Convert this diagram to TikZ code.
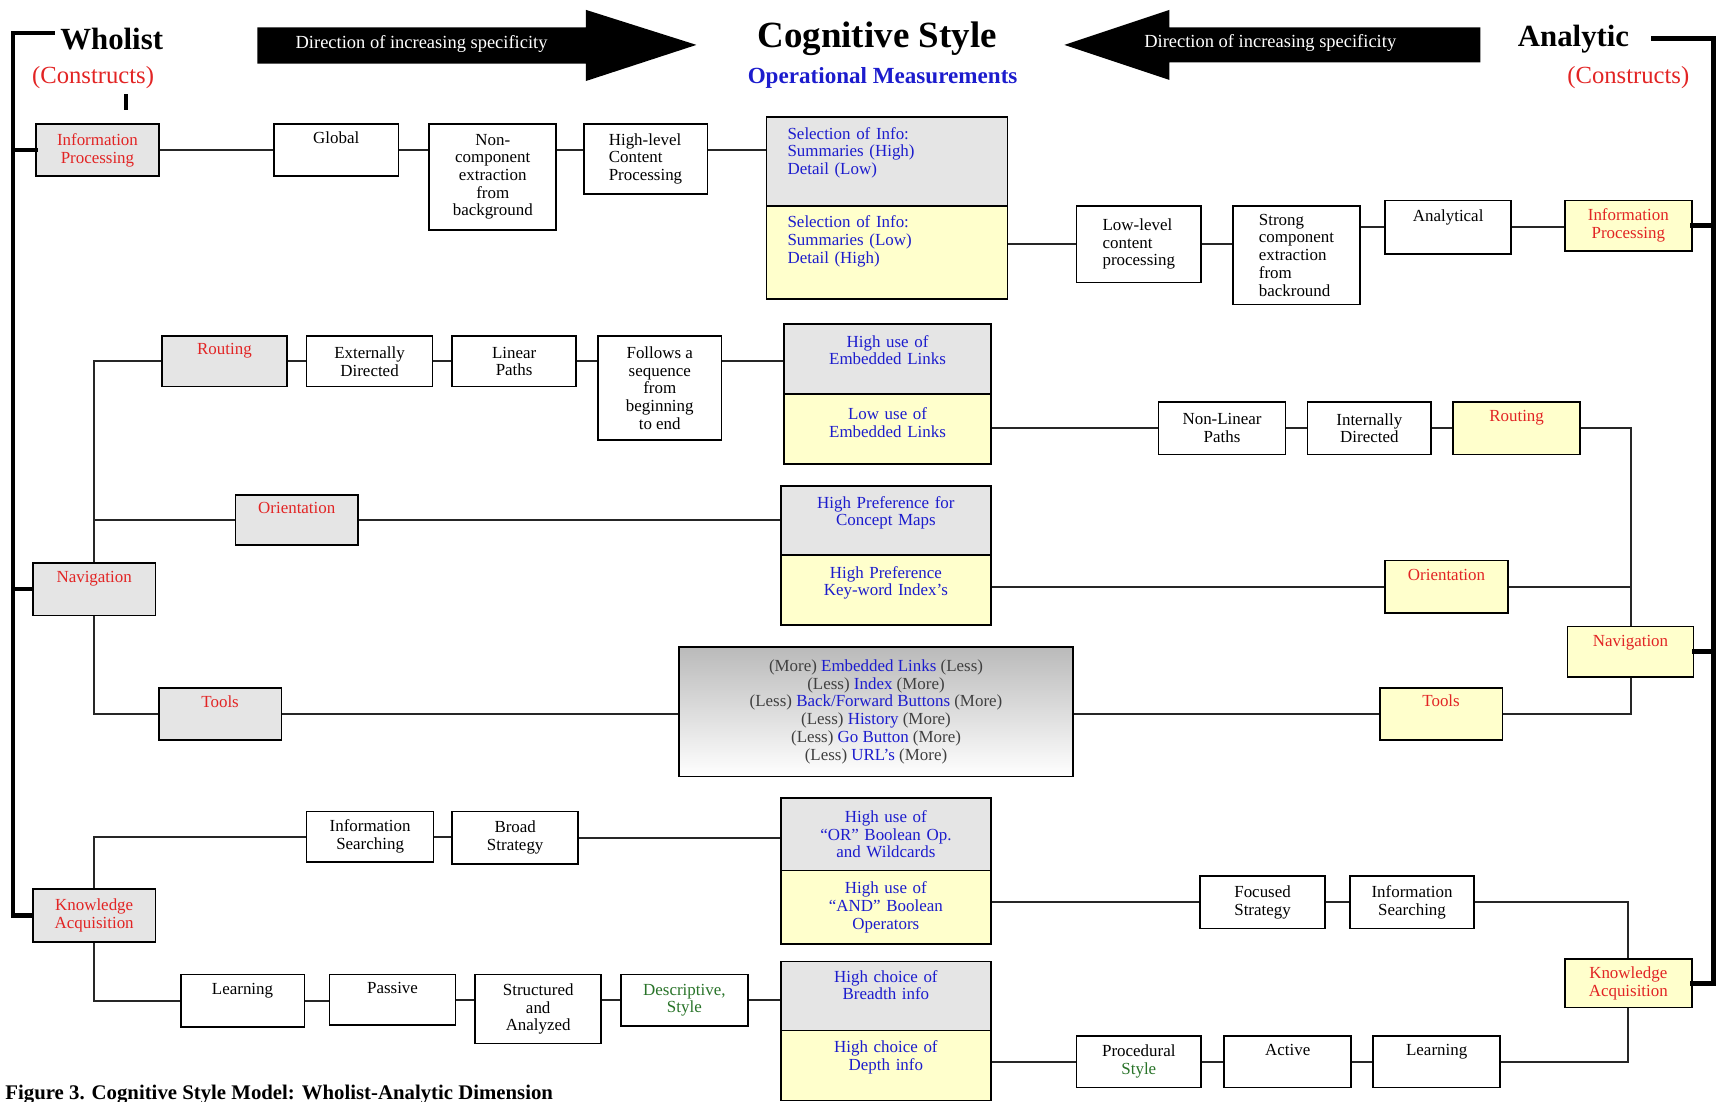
\documentclass[tikz,border=0pt]{standalone}
\usepackage{fontspec}
\setmainfont{Liberation Serif}

\definecolor{boxgrey}{RGB}{229,229,229}
\definecolor{boxyellow}{RGB}{255,255,204}
\definecolor{constred}{RGB}{226,36,36}
\definecolor{measblue}{RGB}{28,28,205}
\definecolor{stylegreen}{RGB}{40,115,40}

\def\un{0.025cm}
\tikzset{
  box/.style 2 args = {
    draw, line width=1.1pt, fill=white, inner sep=3pt, align=center,
    minimum width=#1*\un, minimum height=#2*\un,
    font=\fontsize{11}{11.5}\selectfont
  },
  wholist/.style = {fill=boxgrey},
  analytic/.style = {fill=boxyellow},
  construct/.style = {text=constred},
  measure/.style = {text=measblue, text width=#1*\un-6pt},
  % text at the top of a box: box height, baseline below the top edge
  topline/.code 2 args = {
    \pgfmathsetmacro\tophgt{#2*0.7113-3}
    \pgfmathsetmacro\topdep{(#1-#2)*0.7113-3}
    \tikzset{text height=\tophgt pt, text depth=\topdep pt}
  },
  link/.style = {line width=1.3pt, draw=black!85},
  bracket/.style = {line width=3pt, line cap=rect},
  pole/.style = {font=\fontsize{20}{22}\selectfont\bfseries},
  constr/.style = {text=constred, font=\fontsize{16}{18}\selectfont},
  heading/.style = {font=\fontsize{24}{26}\selectfont\bfseries},
  opmeas/.style = {text=measblue, font=\fontsize{15}{17}\selectfont\bfseries},
  arrowtext/.style = {text=white, font=\fontsize{12}{14}\selectfont}
}

\begin{document}
\begin{tikzpicture}[x=0.025cm, y=-0.025cm]
    \useasboundingbox (0,0) rectangle (1568,1006);

    %% Heading

    % Poles and title
    \node[pole] (whol) at (102,36) {Wholist};
    \node[constr] (conl) at (85,71) {(Constructs)};
    \node[heading] (cog) at (801,35) {Cognitive Style};
    \node[opmeas] (opm) at (806,71) {Operational Measurements};
    \node[pole] (anal) at (1437,36) {Analytic};
    \node[constr] (conr) at (1487,71) {(Constructs)};
    \draw[line width=2.2pt] (115,86) -- (115,100);

    % Direction arrows
    \fill (235,25) -- (535,25) -- (535,9) -- (636,41) -- (535,74) -- (535,58) -- (235,58) -- cycle;
    \node[arrowtext] (dirl) at (385,40) {Direction of increasing specificity};
    \fill (1352,25) -- (1068,25) -- (1068,9) -- (972,41) -- (1068,73) -- (1068,57) -- (1352,57) -- cycle;
    \node[arrowtext] (dirr) at (1160,39) {Direction of increasing specificity};

    %% Constructs, wholist side
    \node[box={112}{48}, wholist, construct] (ipl) at (89,137) {Information\\Processing};
    \node[box={112}{48}, wholist, construct, topline={48}{18}] (navl) at (86,538) {Navigation};
    \node[box={112}{48}, wholist, construct] (kal) at (86,836) {Knowledge\\Acquisition};
    \node[box={114}{46}, wholist, construct, topline={46}{17}] (routl) at (205,330) {Routing};
    \node[box={112}{46}, wholist, construct, topline={46}{17}] (oril) at (271,475) {Orientation};
    \node[box={112}{48}, wholist, construct, topline={48}{18}] (tooll) at (201,652) {Tools};

    %% Constructs, analytic side
    \node[box={116}{46}, analytic, construct] (ipr) at (1487,206) {Information\\Processing};
    \node[box={116}{48}, analytic, construct, topline={48}{18}] (routr) at (1385,391) {Routing};
    \node[box={112}{48}, analytic, construct, topline={48}{18}] (orir) at (1321,536) {Orientation};
    \node[box={115}{46}, analytic, construct, topline={46}{18}] (navr) at (1489,595) {Navigation};
    \node[box={112}{48}, analytic, construct, topline={48}{17}] (toolr) at (1316,652) {Tools};
    \node[box={116}{44}, analytic, construct] (kar) at (1487,898) {Knowledge\\Acquisition};

    %% Information processing
    \node[box={114}{48}, topline={48}{18}] (glob) at (307,137) {Global};
    \node[box={116}{97}] (ncomp) at (450,161.5) {Non-\\component\\extraction\\from\\background};
    \node[box={113}{64}, align=left] (hlev) at (589.5,145) {High-level\\Content\\Processing};
    \node[box={220}{81}, wholist, measure=190, align=left, topline={81}{20}] (selA) at (810,147.5)
        {Selection of Info:\\Summaries (High)\\Detail (Low)};
    \node[box={220}{85}, analytic, measure=190, align=left, topline={85}{20}] (selB) at (810,230.5)
        {Selection of Info:\\Summaries (Low)\\Detail (High)};
    \node[box={114}{70}, align=left] (lowl) at (1040,223) {Low-level\\content\\processing};
    \node[box={116}{90}, align=left] (strong) at (1184,233) {Strong\\component\\extraction\\from\\backround};
    \node[box={115}{49}, topline={49}{19}] (analy) at (1322.5,207.5) {Analytical};

    %% Navigation
    \node[box={115}{46}] (ext) at (337.5,330) {Externally\\Directed};
    \node[box={113}{46}] (lin) at (469.5,330) {Linear\\Paths};
    \node[box={113}{95}] (follow) at (602.5,354.5) {Follows a\\sequence\\from\\beginning\\to end};
    \node[box={189}{64}, wholist, measure=189, topline={64}{21}] (embA) at (810.5,328) {High use of\\Embedded Links};
    \node[box={189}{64}, analytic, measure=189, topline={64}{23}] (embB) at (810.5,392) {Low use of\\Embedded Links};
    \node[box={116}{48}] (nonlin) at (1116,391) {Non-Linear\\Paths};
    \node[box={113}{48}] (intd) at (1250.5,391) {Internally\\Directed};
    \node[box={192}{63}, wholist, measure=192, topline={63}{20}] (conA) at (809,475.5) {High Preference for\\Concept Maps};
    \node[box={192}{64}, analytic, measure=192, topline={64}{21}] (conB) at (809,539) {High Preference\\Key-word Index's};
    \node[box={360}{118}, top color=black!27, bottom color=white, text=black!75] (tools) at (800,650)
        {(More) \textcolor{measblue}{Embedded Links} (Less)\\
         (Less) \textcolor{measblue}{Index} (More)\\
         (Less) \textcolor{measblue}{Back/Forward Buttons} (More)\\
         (Less) \textcolor{measblue}{History} (More)\\
         (Less) \textcolor{measblue}{Go Button} (More)\\
         (Less) \textcolor{measblue}{URL's} (More)};

    %% Knowledge acquisition
    \node[box={116}{46}] (isl) at (338,764) {Information\\Searching};
    \node[box={115}{48}] (broad) at (470.5,765) {Broad\\Strategy};
    \node[box={192}{66}, wholist, measure=192] (orA) at (809,762) {High use of\\``OR'' Boolean Op.\\and Wildcards};
    \node[box={192}{67}, analytic, measure=192] (orB) at (809,828.5) {High use of\\``AND'' Boolean\\Operators};
    \node[box={114}{48}] (focus) at (1153,824) {Focused\\Strategy};
    \node[box={113}{48}] (isr) at (1289.5,824) {Information\\Searching};
    \node[box={113}{48}, topline={48}{18}] (learnl) at (221.5,914) {Learning};
    \node[box={115}{46}, topline={46}{17}] (passv) at (358.5,913) {Passive};
    \node[box={115}{63}] (struct) at (491.5,921.5) {Structured\\and\\Analyzed};
    \node[box={116}{47}, text=stylegreen] (descr) at (625,913.5) {Descriptive,\\Style};
    \node[box={192}{63}, wholist, measure=192, topline={63}{19}] (brA) at (809,909.5) {High choice of\\Breadth info};
    \node[box={192}{64}, analytic, measure=192, topline={64}{20}] (brB) at (809,973) {High choice of\\Depth info};
    \node[box={114}{47}] (procr) at (1040,969.5) {Procedural\\\textcolor{stylegreen}{Style}};
    \node[box={116}{47}, topline={47}{18}] (activ) at (1176,969.5) {Active};
    \node[box={116}{47}, topline={47}{18}] (learnr) at (1312,969.5) {Learning};

    % Caption
    \node[anchor=base west, font=\fontsize{13.5}{15}\selectfont\bfseries] (capt) at (0,1004)
        {Figure 3. Cognitive Style Model: Wholist-Analytic Dimension};

    %% Connectors

    % Information processing
    \draw[link] (ipl) -- (glob);
    \draw[link] (glob.east) -- (glob.east -| ncomp.west);
    \draw[link] (ncomp.east |- glob.east) -- (hlev.west |- glob.east);
    \draw[link] (hlev.east |- glob.east) -- (selA.west |- glob.east);
    \draw[link] (selB.east |- lowl.west) -- (lowl.west);
    \draw[link] (lowl.east) -- (lowl.east -| strong.west);
    \draw[link] (strong.east |- analy.west) -- (analy.west);
    \draw[link] (analy.east) -- (analy.east -| ipr.west);

    % Navigation
    \draw[link] (navl.north) |- (routl.west);
    \draw[link] (routl) -- (ext);
    \draw[link] (ext) -- (lin);
    \draw[link] (lin.east) -- (lin.east -| follow.west);
    \draw[link] (follow.east |- lin.east) -- (embA.west |- lin.east);
    \draw[link] (embB.east |- nonlin.west) -- (nonlin.west);
    \draw[link] (nonlin) -- (intd);
    \draw[link] (intd) -- (routr);
    \draw[link] (routr.east) -| (navr.north);
    \draw[link] (navl.north |- oril.west) -- (oril.west);
    \draw[link] (oril.east) -- (oril.east -| conA.west);
    \draw[link] (conB.east |- orir.west) -- (orir.west);
    \draw[link] (orir.east) -- (orir.east -| navr.north);
    \draw[link] (navl.south) |- (tooll.west);
    \draw[link] (tooll.east) -- (tooll.east -| tools.west);
    \draw[link] (tools.east |- toolr.west) -- (toolr.west);
    \draw[link] (navr.south) |- (toolr.east);

    % Knowledge acquisition
    \draw[link] (kal.north) |- (isl.west);
    \draw[link] (isl.east) -- (isl.east -| broad.west);
    \draw[link] (broad.east) -- (broad.east -| orA.west);
    \draw[link] (orB.east |- focus.west) -- (focus.west);
    \draw[link] (focus) -- (isr);
    \draw[link] (isr.east) -| (kar.north);
    \draw[link] (kal.south) |- (learnl.west);
    \draw[link] (learnl.east) -- (learnl.east -| passv.west);
    \draw[link] (passv.east) -- (passv.east -| struct.west);
    \draw[link] (struct.east |- passv.east) -- (descr.west |- passv.east);
    \draw[link] (descr.east) -- (descr.east -| brA.west);
    \draw[link] (brB.east |- procr.west) -- (procr.west);
    \draw[link] (procr) -- (activ);
    \draw[link] (activ) -- (learnr);
    \draw[link] (kar.south) |- (learnr.east);

    % Brackets
    \coordinate (lt) at (48,30);
    \coordinate (lb) at (12,30);
    \coordinate (rt) at (1510,35);
    \coordinate (rb) at (1565,35);
    \draw[bracket] (lt) -- (lb) |- (kal.west);
    \draw[bracket] (lb |- ipl.west) -- (ipl.west);
    \draw[bracket] (lb |- navl.west) -- (navl.west);
    \draw[bracket] (rt) -- (rb) |- (kar.east);
    \draw[bracket] (rb |- ipr.east) -- (ipr.east);
    \draw[bracket] (rb |- navr.east) -- (navr.east);

\end{tikzpicture}
\end{document}
